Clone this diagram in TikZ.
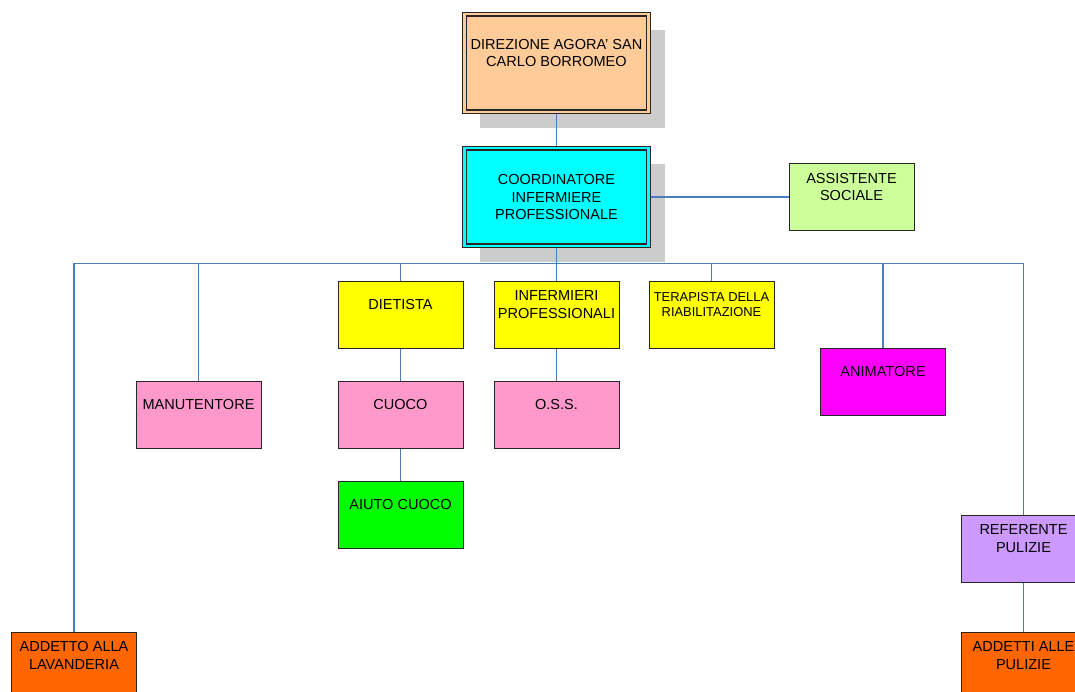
\documentclass[tikz,border=0pt]{standalone}
\usepackage{fontspec}
\setmainfont{Liberation Sans}
\usepackage{tikz}
\usetikzlibrary{calc,backgrounds,positioning}
\definecolor{peach}{HTML}{FFCC99}
\definecolor{aqua}{HTML}{00FFFF}
\definecolor{lgreen}{HTML}{CCFF99}
\definecolor{yell}{HTML}{FFFF00}
\definecolor{pink}{HTML}{FF99CC}
\definecolor{brgreen}{HTML}{00FF00}
\definecolor{fuchsia}{HTML}{FF00FF}
\definecolor{lilac}{HTML}{CC99FF}
\definecolor{orng}{HTML}{FF6600}
\definecolor{linkblue}{HTML}{4A7EBB}
\definecolor{shadegray}{HTML}{CCCCCC}
\tikzset{
  box/.style={draw=black!85, line width=0.75pt, minimum width=93.75pt, minimum height=50.25pt, inner sep=0pt},
  bigbox/.style={draw=black!85, line width=0.85pt, double distance=1.6pt, minimum width=138pt, minimum height=73pt, inner sep=0pt},
  txt/.style={align=center, inner sep=0pt, font=\fontsize{10.9}{13.3}\selectfont},
  conn/.style={draw=linkblue, line width=0.85pt},
  shade/.style={fill=shadegray}
}

\begin{document}
\begin{tikzpicture}[x=0.75pt,y=-0.75pt]
\clip (0,0) rectangle (1075,692);
\coordinate (bus) at (556.5,263.5);
% top of the chart
\node[bigbox, fill=peach, double=peach] (dir) at (556.5,63) {};
\node[txt] (dirT) at ($(dir)+(0,-10)$) {DIREZIONE AGORA' SAN\\CARLO BORROMEO};
\node[bigbox, fill=aqua, double=aqua] (coord) at (556.5,197) {};
\node[txt] (coordT) at (coord) {COORDINATORE\\INFERMIERE\\PROFESSIONALE};
\node[box, fill=lgreen] (assist) at (851.5,197) {};
\node[txt] (assistT) at ($(assist)+(0,-10)$) {ASSISTENTE\\SOCIALE};
% second row
\node[box, fill=yell] (diet) at (400.5,314.5) {};
\node[txt] (dietT) at ($(diet)+(0,-10)$) {DIETISTA};
\node[box, fill=yell] (inf) at (556.5,314.5) {};
\node[txt] (infT) at ($(inf)+(0,-10)$) {INFERMIERI\\PROFESSIONALI};
\node[box, fill=yell] (ter) at (711.5,314.5) {};
\node[txt, font=\fontsize{9.7}{11.8}\selectfont] (terT) at ($(ter)+(0,-10)$) {TERAPISTA DELLA\\RIABILITAZIONE};
\node[box, fill=fuchsia] (anim) at (883,381.5) {};
\node[txt] (animT) at ($(anim)+(0,-10)$) {ANIMATORE};
% lower rows
\node[box, fill=pink] (manut) at (198.5,414.5) {};
\node[txt] (manutT) at ($(manut)+(0,-10)$) {MANUTENTORE};
\node[box, fill=pink] (cuoco) at (400.5,414.5) {};
\node[txt] (cuocoT) at ($(cuoco)+(0,-10)$) {CUOCO};
\node[box, fill=pink] (oss) at (556.5,414.5) {};
\node[txt] (ossT) at ($(oss)+(0,-10)$) {O.S.S.};
\node[box, fill=brgreen] (aiuto) at (400.5,514.5) {};
\node[txt] (aiutoT) at ($(aiuto)+(0,-10)$) {AIUTO CUOCO};
\node[box, fill=lilac] (ref) at (1023.5,548.5) {};
\node[txt] (refT) at ($(ref)+(0,-10)$) {REFERENTE\\PULIZIE};
\node[box, fill=orng] (lav) at (74,665.5) {};
\node[txt] (lavT) at ($(lav)+(0,-10)$) {ADDETTO ALLA\\LAVANDERIA};
\node[box, fill=orng] (add) at (1023.5,665.5) {};
\node[txt] (addT) at ($(add)+(0,-10)$) {ADDETTI ALLE\\PULIZIE};
% shadows and connectors behind the boxes
\begin{scope}[on background layer]
\fill[shade] ($(dir.south west)+(16,16)$) rectangle ($(dir.north east)+(16,16)$);
\fill[shade] ($(coord.south west)+(16,16)$) rectangle ($(coord.north east)+(16,16)$);
\draw[conn] (dir) -- (coord);
\draw[conn] (coord) -- (assist);
\draw[conn] (coord) -- (inf);
\draw[conn] (lav.north) -- (lav.north |- bus) -- (ref.north |- bus) -- (ref.north);
\draw[conn] (manut.north) -- (manut.north |- bus);
\draw[conn] (diet.north) -- (diet.north |- bus);
\draw[conn] (ter.north) -- (ter.north |- bus);
\draw[conn] (anim.north) -- (anim.north |- bus);
\draw[conn] (diet) -- (cuoco);
\draw[conn] (cuoco) -- (aiuto);
\draw[conn] (inf) -- (oss);
\draw[conn] (ref) -- (add);
\end{scope}
\end{tikzpicture}
\end{document}
